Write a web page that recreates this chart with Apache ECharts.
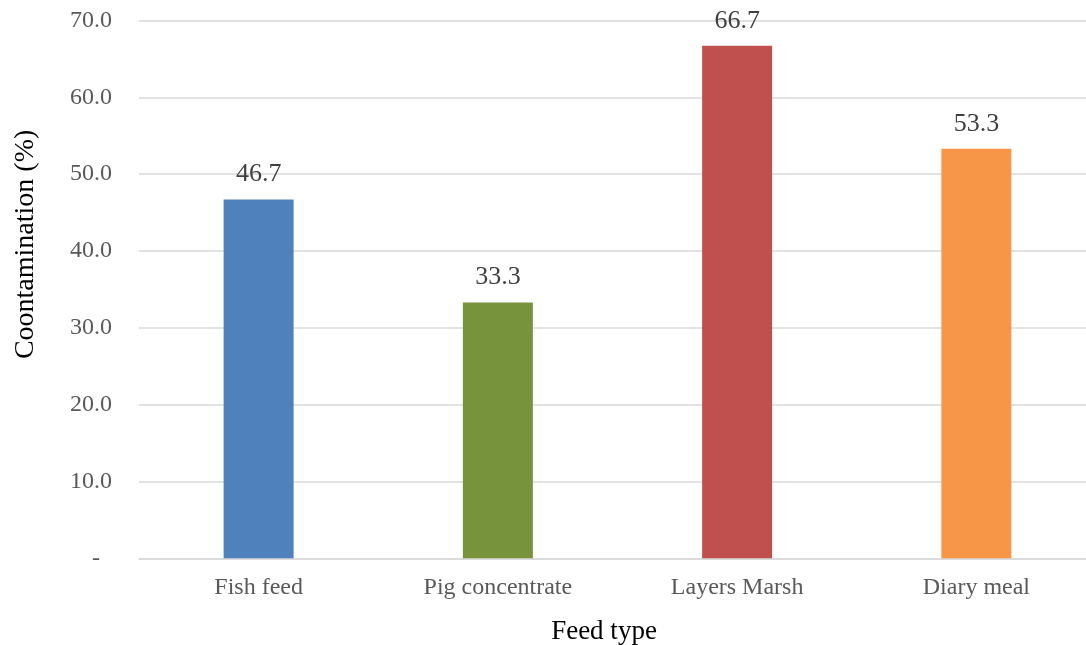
<!DOCTYPE html>
<html><head><meta charset="utf-8">
<script src="https://cdn.jsdelivr.net/npm/echarts@6/dist/echarts.min.js"></script>
<style>html,body{margin:0;padding:0;background:#fff}#c{width:1086px;height:645px}</style>
</head><body><div id="c"></div>
<script>
const categories = ["Fish feed", "Pig concentrate", "Layers Marsh", "Diary meal"];
const values = [46.7, 33.3, 66.7, 53.3];
const barColors = ["#4F81BD", "#77933C", "#C0504D", "#F79646"];
const yTicks = [0, 10, 20, 30, 40, 50, 60, 70];
const font = "'Liberation Serif','Times New Roman',serif";
const chart = echarts.init(document.getElementById('c'));
chart.setOption({
  animation: false,
  grid: { left: 139, right: -10, top: 20.5, bottom: 86.7, containLabel: false, outerBoundsMode: 'none' },
  xAxis: {
    type: 'category', data: categories,
    name: 'Feed type', nameLocation: 'middle', nameGap: 60,
    nameTextStyle: { fontFamily: font, fontSize: 27, color: '#000', padding: [0, 27, 0, 0] },
    axisLine: { show: true, lineStyle: { color: '#d9d9d9', width: 1.5 } },
    axisTick: { show: false },
    axisLabel: { fontFamily: font, fontSize: 24, color: '#595959', margin: 17 }
  },
  yAxis: {
    type: 'value', min: 0, max: 70, interval: 10,
    name: 'Coontamination (%)', nameLocation: 'middle', nameGap: 99, nameRotate: 90,
    nameTextStyle: { fontFamily: font, fontSize: 28, color: '#000', padding: [0, 0, 0, 90] },
    axisLine: { show: false }, axisTick: { show: false },
    splitLine: { lineStyle: { color: '#d9d9d9', width: 1.5 } },
    axisLabel: {
      fontFamily: font, fontSize: 24, color: '#595959', margin: 27,
      formatter: v => yTicks.includes(v) ? (v === 0 ? '-  ' : v.toFixed(1)) : ''
    }
  },
  series: [{
    type: 'bar', barWidth: 70,
    data: values.map((v, i) => ({ value: v, itemStyle: { color: barColors[i] } })),
    label: {
      show: true, position: 'top', distance: 12,
      fontFamily: font, fontSize: 26, color: '#404040',
      formatter: p => p.value.toFixed(1)
    }
  }]
});
</script></body></html>
